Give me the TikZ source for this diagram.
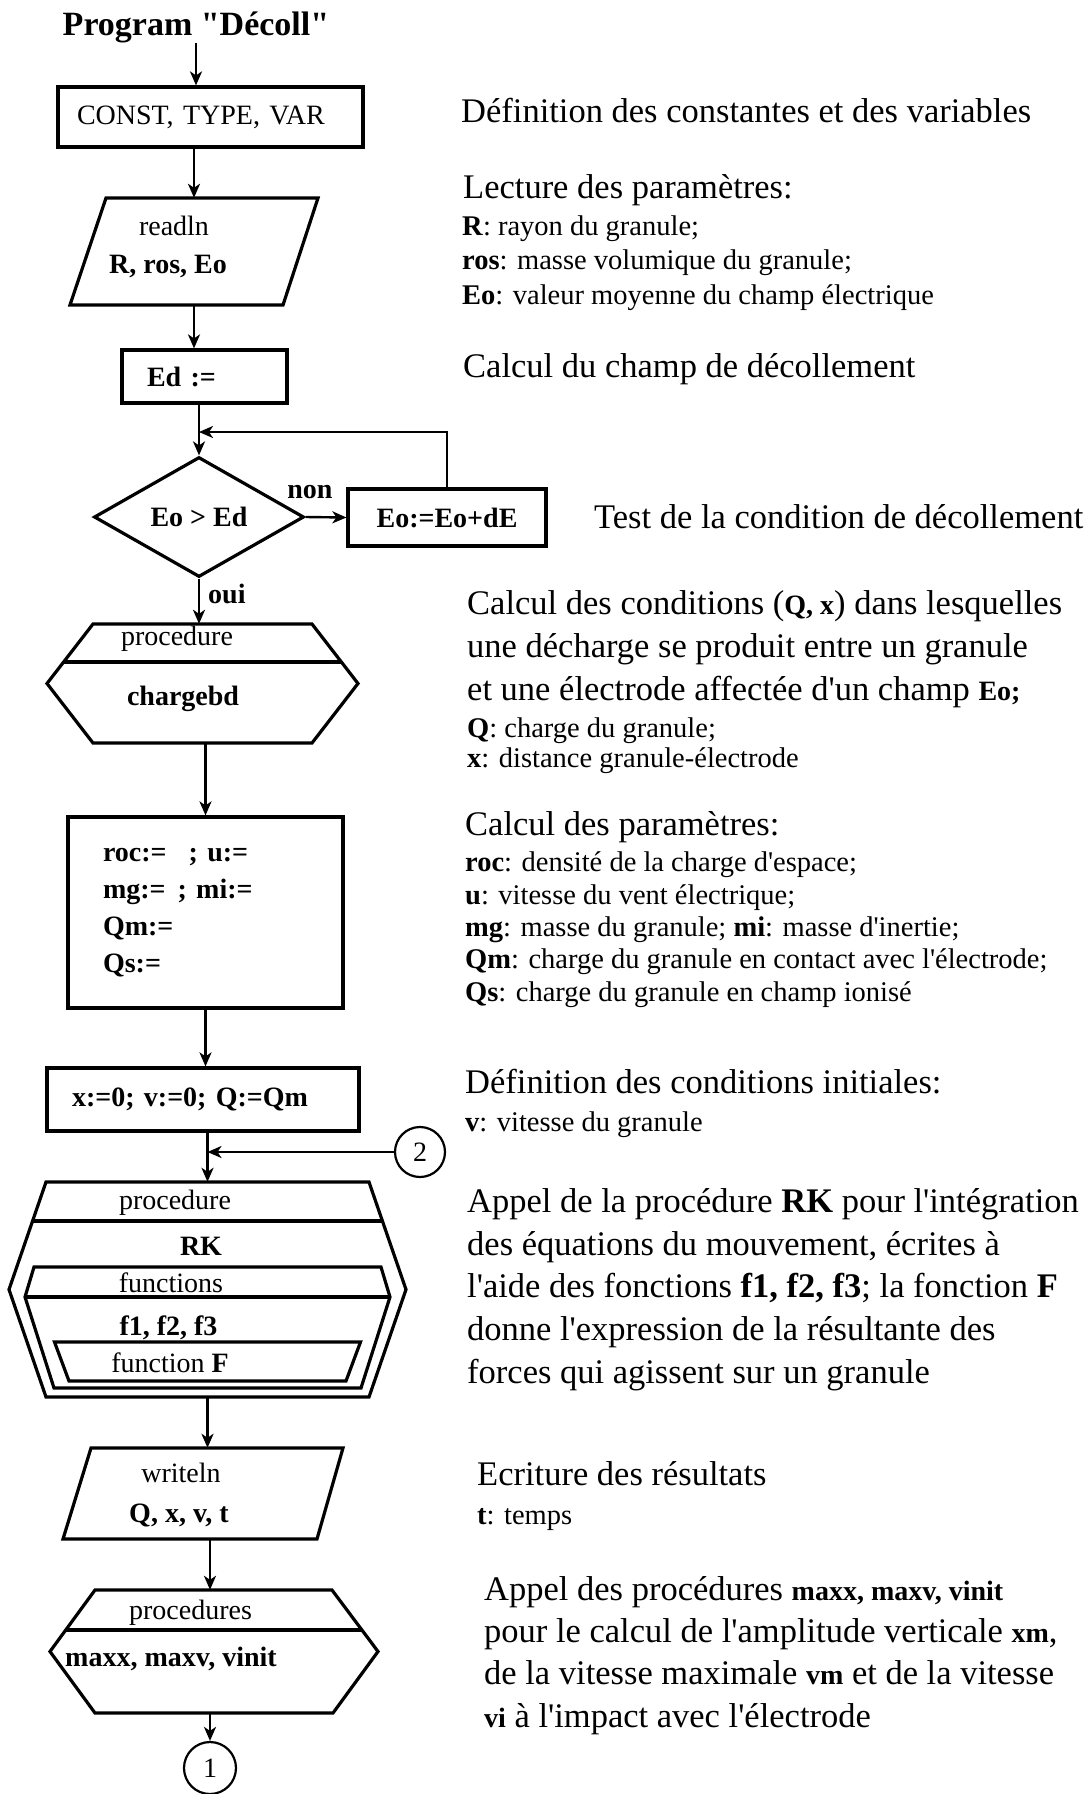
\documentclass[tikz,border=0pt]{standalone}
\usepackage{fontspec}
\setmainfont{Liberation Serif}[Ligatures=TeXOff]
\usetikzlibrary{arrows.meta,shapes.geometric}

\newcommand{\smallbf}[1]{{\bfseries\fontsize{28pt}{28pt}\selectfont #1}}

\begin{document}
\begin{tikzpicture}[x=1pt,y=-1pt,
  font=\fontsize{28pt}{34pt}\selectfont,
  arr/.style={-{Stealth[length=14pt,width=12pt,inset=4pt]},line width=2.4pt},
  box/.style={draw,line width=3.2pt,inner sep=0pt},
  frame/.style={inner sep=0pt},
  edgeline/.style={line width=3.2pt},
  lbl/.style={inner sep=0pt,anchor=base},
  mainnote/.style={anchor=base west,align=left,inner sep=0pt,font=\fontsize{34.5pt}{#1}\selectfont},
  mainnote/.default=42pt,
  subnote/.style={anchor=base west,align=left,inner sep=0pt,font=\fontsize{28.5pt}{#1}\selectfont},
  subnote/.default=32pt]
\useasboundingbox (0,0) rectangle (1092,1794);

% flowchart
\node[lbl,font=\fontsize{34pt}{40pt}\bfseries] (title) at (196,35) {Program "Décoll"};
\node[box,minimum width=305pt,minimum height=60pt,text width=267pt,inner xsep=19pt,align=left] (const) at (210.5,117) {CONST, TYPE, VAR};

\node[frame,minimum width=248pt,minimum height=107pt] (readln) at (194,251.5) {};
\begin{scope}[shift={(readln.center)}]
  \draw[edgeline] (-124,53.5) -- (89,53.5) -- (124,-53.5) -- (-88,-53.5) -- cycle;
\end{scope}
\node[lbl] (readtxt) at (174,235) {readln};
\node[lbl] (readvar) at (168,273) {\textbf{R, ros, Eo}};

\node[box,minimum width=165pt,minimum height=53pt,text width=115pt,inner xsep=25pt,align=left] (ed) at (204.5,376.5) {\textbf{Ed :=}};

\node[box,diamond,aspect=1.75,minimum width=210pt,minimum height=120pt] (test) at (199,517) {\textbf{Eo > Ed}};
\node[box,minimum width=198pt,minimum height=57pt] (incr) at (447,517.5) {\textbf{Eo:=Eo+dE}};
\coordinate (join) at (199,432);
\node[lbl] (non) at (310,498) {\textbf{non}};
\node[lbl,anchor=base west] (oui) at (208,603) {\textbf{oui}};

\node[frame,minimum width=311pt,minimum height=119pt] (chg) at (202.5,683.5) {};
\begin{scope}[shift={(chg.center)}]
  \draw[edgeline] (-155.5,0) -- (-109.5,-59.5) -- (109.5,-59.5) -- (155.5,0) -- (109.5,59.5) -- (-109.5,59.5) -- cycle;
  \draw[edgeline] (-138.9,-21.5) -- (138.9,-21.5);
\end{scope}
\node[lbl] (chgtxt) at (177,645) {procedure};
\node[lbl] (chgname) at (183,705) {\textbf{chargebd}};

\node[box,minimum width=275pt,minimum height=191pt,text width=205pt,inner xsep=35pt,align=left,
  font=\fontsize{28pt}{37pt}\selectfont] (roc) at (205.5,912.5)
  {\textbf{roc:=\hspace{22pt}; u:=}\\\textbf{mg:=\hspace{12pt}; mi:=}\\\textbf{Qm:=}\\\textbf{Qs:=}};

\node[box,minimum width=312pt,minimum height=63pt,text width=262pt,inner xsep=25pt,align=left] (xbox) at (203,1099.5) {\textbf{x:=0; v:=0; Q:=Qm}};
\node[draw,circle,line width=2.2pt,minimum size=50pt,inner sep=0pt] (c2) at (420,1152) {2};

\node[frame,minimum width=397pt,minimum height=215pt] (rk) at (207.5,1289.5) {};
\begin{scope}[shift={(rk.center)}]
  \draw[edgeline] (-198.5,0) -- (-161.5,-107.5) -- (161.5,-107.5) -- (198.5,0) -- (161.5,107.5) -- (-161.5,107.5) -- cycle;
  \draw[edgeline] (-174.9,-68.5) -- (174.9,-68.5);
  \draw[edgeline] (-173.5,-22.5) -- (173.5,-22.5) -- (182.5,7.5) -- (153.5,98.5) -- (-153.5,98.5) -- (-182.5,7.5) -- cycle;
  \draw[edgeline] (-182.5,7.5) -- (182.5,7.5);
  \draw[edgeline] (-153,52.5) -- (153,52.5) -- (138.5,91.5) -- (-138.5,91.5) -- cycle;
\end{scope}
\node[lbl] (rktxt) at (175,1209) {procedure};
\node[lbl] (rkname) at (201,1255) {\textbf{RK}};
\node[lbl] (fntxt) at (171,1292) {functions};
\node[lbl] (fnname) at (168.5,1335) {\textbf{f1, f2, f3}};
\node[lbl] (ftxt) at (170,1372) {function \textbf{F}};

\node[frame,minimum width=280pt,minimum height=91pt] (wrt) at (203,1493.5) {};
\begin{scope}[shift={(wrt.center)}]
  \draw[edgeline] (-140,45.5) -- (114,45.5) -- (140,-45.5) -- (-112,-45.5) -- cycle;
\end{scope}
\node[lbl] (wrttxt) at (181,1482) {writeln};
\node[lbl] (wrtvar) at (179,1522) {\textbf{Q, x, v, t}};

\node[frame,minimum width=328pt,minimum height=123pt] (procs) at (214,1651.5) {};
\begin{scope}[shift={(procs.center)}]
  \draw[edgeline] (-164,0) -- (-119,-61.5) -- (118,-61.5) -- (164,0) -- (119,61.5) -- (-119,61.5) -- cycle;
  \draw[edgeline] (-148.3,-21.5) -- (148.3,-21.5);
\end{scope}
\node[lbl] (procstxt) at (190.5,1619) {procedures};
\node[lbl,anchor=base west] (procsname) at (65,1666) {\textbf{maxx, maxv, vinit}};

\node[draw,circle,line width=2.2pt,minimum size=52pt,inner sep=0pt] (c1) at (210,1768) {1};

% connectors
\draw[arr] (title.south) -- (title.south |- const.north);
\draw[arr] (const.south -| readln.north) -- (readln.north);
\draw[arr] (readln.south) -- (readln.south |- ed.north);
\draw[arr] (ed.south -| test.north) -- (test.north);
\draw[arr] (test.east) -- (incr.west);
\draw[arr] (incr.north) |- (join);
\draw[arr] (test.south) -- (test.south |- chg.north);
\draw[arr] (chg.south -| roc.north) -- (roc.north);
\draw[arr] (roc.south) -- (roc.south |- xbox.north);
\draw[arr] (xbox.south -| rk.north) -- (rk.north);
\draw[arr] (c2.west) -- (c2.west -| rk.north);
\draw[arr] (rk.south) -- (rk.south |- wrt.north);
\draw[arr] (wrt.south -| c1.north) -- (c1.north |- procs.north);
\draw[arr] (procs.south -| c1.north) -- (c1.north);

% comments on the right (base = last line)
\node[mainnote] (defnote) at (461,122) {Définition des constantes et des variables};
\node[mainnote] (readnote) at (463,198) {Lecture des paramètres:};
\node[subnote=34.5pt] (readlist) at (462,304) {\textbf{R}: rayon du granule;\\\textbf{ros}: masse volumique du granule;\\\textbf{Eo}: valeur moyenne du champ électrique};
\node[mainnote] (ednote) at (463,377) {Calcul du champ de décollement};
\node[mainnote] (testnote) at (594,528) {Test de la condition de décollement};
\node[mainnote=43pt] (chgnote) at (467,700) {Calcul des conditions (\smallbf{Q, x}) dans lesquelles\\une décharge se produit entre un granule\\et une électrode affectée d'un champ \smallbf{Eo;}};
\node[subnote=30pt] (chglist) at (467,767) {\textbf{Q}: charge du granule;\\\textbf{x}: distance granule-électrode};
\node[mainnote] (parnote) at (465,835) {Calcul des paramètres:};
\node[subnote=32.3pt] (parlist) at (465,1001) {\textbf{roc}: densité de la charge d'espace;\\\textbf{u}: vitesse du vent électrique;\\\textbf{mg}: masse du granule; \textbf{mi}: masse d'inertie;\\\textbf{Qm}: charge du granule en contact avec l'électrode;\\\textbf{Qs}: charge du granule en champ ionisé};
\node[mainnote] (initnote) at (465,1093) {Définition des conditions initiales:};
\node[subnote] (initlist) at (465,1131) {\textbf{v}: vitesse du granule};
\node[mainnote=42.6pt] (rknote) at (467,1383) {Appel de la procédure \textbf{RK} pour l'intégration\\des équations du mouvement, écrites à\\l'aide des fonctions \textbf{f1, f2, f3}; la fonction \textbf{F}\\donne l'expression de la résultante des\\forces qui agissent sur un granule};
\node[mainnote] (wrtnote) at (477,1485) {Ecriture des résultats};
\node[subnote] (wrtlist) at (477,1524) {\textbf{t}: temps};
\node[mainnote=42.3pt] (procnote) at (484,1727) {Appel des procédures \smallbf{maxx, maxv, vinit}\\pour le calcul de l'amplitude verticale \smallbf{xm},\\de la vitesse maximale \smallbf{vm} et de la vitesse\\\smallbf{vi} à l'impact avec l'électrode};
\end{tikzpicture}
\end{document}
